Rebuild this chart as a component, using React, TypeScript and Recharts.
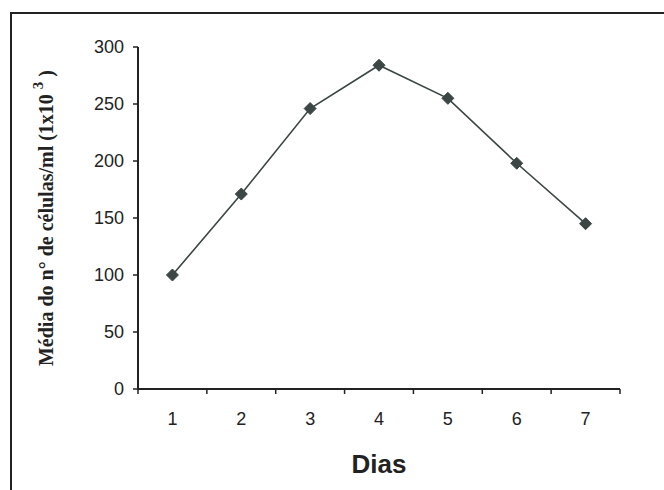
import { LineChart, Line, XAxis, YAxis, Label } from 'recharts';

const dias = [1, 2, 3, 4, 5, 6, 7];
const celulas = [100, 171, 246, 284, 255, 198, 145];
const yTicks = [0, 50, 100, 150, 200, 250, 300];
const tickMarks = [0.5, 1.5, 2.5, 3.5, 4.5, 5.5, 6.5, 7.5];

const data = dias.map((d, i) => ({ dia: d, media: celulas[i] }));

const ink = '#222222';
const lineColor = '#3b4645';
const sans = "'Liberation Sans', Arial, sans-serif";

const Diamond = (props: any) => {
  const { cx, cy } = props;
  if (cx == null || cy == null) return null;
  const r = 6;
  return (
    <path
      d={`M${cx},${cy - r} L${cx + r},${cy} L${cx},${cy + r} L${cx - r},${cy} Z`}
      fill={lineColor}
      stroke={lineColor}
    />
  );
};

const YTitle = (props: any) => {
  const vb = props.viewBox || {};
  const cy = (vb.y ?? 47) + (vb.height ?? 342) / 2;
  const cx = 46;
  return (
    <text
      x={cx}
      y={cy}
      transform={`rotate(-90 ${cx} ${cy})`}
      textAnchor="middle"
      dominantBaseline="central"
      fontFamily="'Liberation Serif', 'Times New Roman', serif"
      fontWeight="bold"
      fontSize={20}
      fill={ink}
    >
      Média do n° de células/ml (1x10{' '}
      <tspan dy={-8} fontSize={15}>3</tspan>
      <tspan dy={8}> )</tspan>
    </text>
  );
};

const App = () => {
  return (
    <div style={{ position: 'absolute', left: 0, top: 0, width: 664, height: 490, background: '#fff', overflow: 'hidden' }}>
      <div
        style={{
          position: 'absolute',
          left: 10,
          top: 12,
          width: 664,
          height: 490,
          borderLeft: `2px solid ${ink}`,
          borderTop: `2px solid ${ink}`,
        }}
      />
      <div style={{ position: 'absolute', left: 0, top: 0 }}>
        <LineChart width={664} height={490} data={data} margin={{ top: 47, right: 44, bottom: 13, left: 78 }}>
          <XAxis
            xAxisId="a"
            dataKey="dia"
            type="number"
            domain={[0.5, 7.5]}
            ticks={tickMarks}
            tickFormatter={() => ''}
            height={8}
            tickSize={5}
            stroke={ink}
            axisLine={{ stroke: ink, strokeWidth: 2 }}
            tickLine={{ stroke: ink, strokeWidth: 1.5 }}
          />
          <XAxis
            xAxisId="b"
            dataKey="dia"
            type="number"
            domain={[0.5, 7.5]}
            ticks={dias}
            height={80}
            axisLine={false}
            tickLine={false}
            tickSize={0}
            tickMargin={15}
            tick={{ fill: ink, fontSize: 18, fontFamily: sans }}
          >
            <Label
              value="Dias"
              position="insideBottom"
              offset={4}
              style={{ fill: ink, fontSize: 26, fontWeight: 'bold', fontFamily: sans }}
            />
          </XAxis>
          <YAxis
            width={60}
            domain={[0, 300]}
            ticks={yTicks}
            interval={0}
            tickSize={5}
            tickMargin={9}
            stroke={ink}
            axisLine={{ stroke: ink, strokeWidth: 2 }}
            tickLine={{ stroke: ink, strokeWidth: 1.5 }}
            tick={{ fill: ink, fontSize: 18, fontFamily: sans }}
          >
            <Label content={<YTitle />} />
          </YAxis>
          <Line
            xAxisId="a"
            type="linear"
            dataKey="media"
            stroke={lineColor}
            strokeWidth={1.6}
            dot={<Diamond />}
            activeDot={false}
            isAnimationActive={false}
          />
        </LineChart>
      </div>
    </div>
  );
};

export default App;
